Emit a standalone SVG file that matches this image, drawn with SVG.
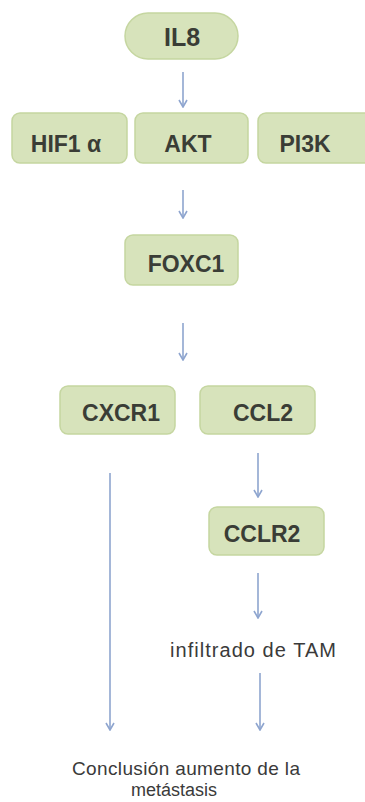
<svg xmlns="http://www.w3.org/2000/svg" width="365" height="802" viewBox="0 0 365 802">
<style>
.box{fill:#d7e3bb;stroke:#c5d6a0;stroke-width:1.5}
.lbl{font-family:"Liberation Sans",Arial,sans-serif;font-size:23px;font-weight:bold;fill:#3a3d36;text-anchor:middle}
.txt{font-family:"Liberation Sans",Arial,sans-serif;font-size:18px;fill:#3a3a3a;text-anchor:middle}
.con line{stroke:#8ea5cf;stroke-width:1.6;fill:none}
</style>
<defs>
<marker id="ah" viewBox="0 0 10 10" refX="9" refY="5" markerWidth="10" markerHeight="10" markerUnits="userSpaceOnUse" orient="auto">
<path d="M2,1 L9,5 L2,9" fill="none" stroke="#8ea5cf" stroke-width="1.6"/>
</marker>
</defs>
<rect width="365" height="802" fill="#ffffff"/>
<g id="IL8"><rect class="box" x="125" y="13" width="113" height="46" rx="23"/><text class="lbl" x="182" y="46" style="font-size:25px">IL8</text></g>
<g id="HIF1a"><rect class="box" x="12" y="113" width="115" height="50" rx="8"/><text class="lbl" x="66" y="152">HIF1 α</text></g>
<g id="AKT"><rect class="box" x="135" y="113" width="113" height="50" rx="8"/><text class="lbl" x="188" y="152">AKT</text></g>
<g id="PI3K"><rect class="box" x="258" y="113" width="114" height="50" rx="8"/><text class="lbl" x="305" y="152">PI3K</text></g>
<g id="FOXC1"><rect class="box" x="125" y="235" width="113" height="50" rx="8"/><text class="lbl" x="186" y="272">FOXC1</text></g>
<g id="CXCR1"><rect class="box" x="60" y="386" width="115" height="48" rx="8"/><text class="lbl" x="121" y="421">CXCR1</text></g>
<g id="CCL2"><rect class="box" x="200" y="386" width="115" height="48" rx="8"/><text class="lbl" x="263" y="421">CCL2</text></g>
<g id="CCLR2"><rect class="box" x="209" y="507" width="115" height="48" rx="8"/><text class="lbl" x="262" y="542">CCLR2</text></g>
<g id="infiltrado"><text class="txt" x="253" y="657" style="font-size:20px" textLength="166">infiltrado de TAM</text></g>
<g id="conclusion"><text class="txt" x="186" y="775" style="font-size:19px" textLength="228">Conclusión aumento de la</text><text class="txt" x="174" y="796" style="font-size:18px">metástasis</text></g>
<g class="con" id="connectors">
<line x1="183" y1="72" x2="183" y2="107" marker-end="url(#ah)"/>
<line x1="183" y1="190" x2="183" y2="218" marker-end="url(#ah)"/>
<line x1="183" y1="323" x2="183" y2="360" marker-end="url(#ah)"/>
<line x1="258" y1="453" x2="258" y2="497" marker-end="url(#ah)"/>
<line x1="110" y1="473" x2="110" y2="730" marker-end="url(#ah)"/>
<line x1="258" y1="573" x2="258" y2="618" marker-end="url(#ah)"/>
<line x1="260" y1="673" x2="260" y2="730" marker-end="url(#ah)"/>
</g>
</svg>
